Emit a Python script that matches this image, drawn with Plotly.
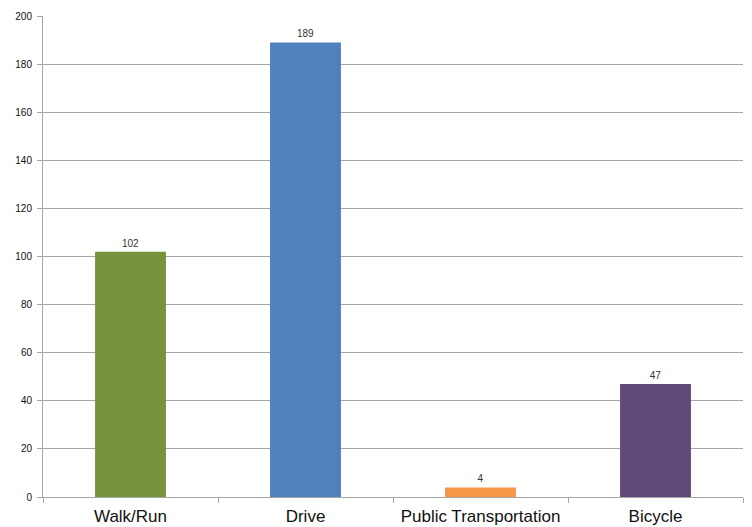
import plotly.graph_objects as go

categories = ["Walk/Run", "Drive", "Public Transportation", "Bicycle"]
values = [102, 189, 4, 47]
colors = ["#77933C", "#4F81BD", "#F79646", "#604A7B"]
y_ticks = [0, 20, 40, 60, 80, 100, 120, 140, 160, 180, 200]

fig = go.Figure(go.Bar(
    x=categories, y=values, marker=dict(color=colors, line=dict(width=0)),
    text=[str(v) for v in values], textposition="outside",
    textfont=dict(family="Liberation Sans, Arial", size=10, color="#333333"),
    cliponaxis=False, width=0.405,
))
# page body has an 8px margin; figure is offset by (8, 8)
fig.update_layout(
    width=744, height=519, margin=dict(l=35, r=9, t=8, b=30, autoexpand=False),
    paper_bgcolor="white", plot_bgcolor="white", showlegend=False,
    font=dict(family="Liberation Sans, Arial", color="#222222"),
)
fig.update_xaxes(
    showline=True, linecolor="#A6A6A6", linewidth=1, ticks="outside",
    tickson="boundaries", ticklen=5, tickcolor="#A6A6A6",
    tickfont=dict(size=17, color="#111111"), showgrid=False,
    automargin=False, ticklabelstandoff=4,
)
fig.update_yaxes(
    range=[0, 200], tickvals=y_ticks, showline=True, linecolor="#A6A6A6",
    linewidth=1, ticks="outside", ticklen=5, tickcolor="#A6A6A6",
    gridcolor="#A6A6A6", gridwidth=1, zeroline=False,
    tickfont=dict(size=10, color="#111111"), automargin=False,
    ticklabelstandoff=3,
)
fig.write_html("out.html")
